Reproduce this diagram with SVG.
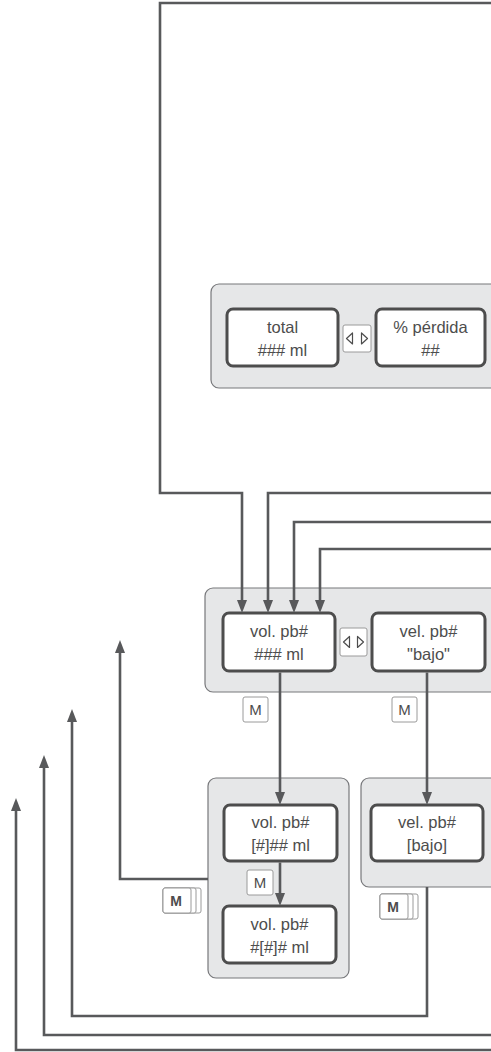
<svg xmlns="http://www.w3.org/2000/svg" width="491" height="1052" viewBox="0 0 491 1052">
<style>
.panel{fill:#e6e7e8;stroke:#77787b;stroke-width:1.2}
.box{fill:#fff;stroke:#4d4d4d;stroke-width:3}
.btn{fill:#fff;stroke:#9a9a9a;stroke-width:1}
.tri{fill:#fff;stroke:#4d4d4d;stroke-width:1.2;stroke-linejoin:round}
.t{font-family:"Liberation Sans",Arial,sans-serif;font-size:16.5px;fill:#4d4d4d;text-anchor:middle}
.m{font-family:"Liberation Sans",Arial,sans-serif;font-size:15px;fill:#4d4d4d;text-anchor:middle}
.mb{font-family:"Liberation Sans",Arial,sans-serif;font-size:14px;font-weight:bold;fill:#4d4d4d;text-anchor:middle}
.c{fill:none;stroke:#58595b;stroke-width:2.6}
</style>
<defs>
<marker id="ah" viewBox="0 0 13 10" refX="1" refY="5" markerWidth="13" markerHeight="10" markerUnits="userSpaceOnUse" orient="auto">
<path d="M0,0 L13,5 L0,10 z" fill="#58595b"/>
</marker>
</defs>

<g id="panel-top">
<rect class="panel" x="211" y="284" width="290" height="104" rx="8"/>
</g>
<g id="node-total">
<rect class="box" x="227" y="309" width="111" height="57" rx="6"/>
<text class="t" x="282.5" y="333">total</text>
<text class="t" x="282.5" y="356">### ml</text>
</g>
<g id="btn-arrows-top">
<rect class="btn" x="343" y="325" width="28" height="27" rx="2"/>
<polygon class="tri" points="346.5,338.5 352.5,333 352.5,344"/>
<polygon class="tri" points="367.5,338.5 361.5,333 361.5,344"/>
</g>
<g id="node-perdida">
<rect class="box" x="376" y="309" width="109" height="57" rx="6"/>
<text class="t" x="430.5" y="333">% pérdida</text>
<text class="t" x="430.5" y="356">##</text>
</g>

<g id="panel-mid">
<rect class="panel" x="205" y="588" width="296" height="104" rx="8"/>
</g>
<g id="node-vol">
<rect class="box" x="223" y="613" width="112" height="58" rx="6"/>
<text class="t" x="279" y="637">vol. pb#</text>
<text class="t" x="279" y="660">### ml</text>
</g>
<g id="btn-arrows-mid">
<rect class="btn" x="340" y="628" width="27" height="28" rx="2"/>
<polygon class="tri" points="343.5,642 349.5,636.5 349.5,647.5"/>
<polygon class="tri" points="363.5,642 357.5,636.5 357.5,647.5"/>
</g>
<g id="node-vel">
<rect class="box" x="372" y="613" width="113" height="58" rx="6"/>
<text class="t" x="428.5" y="637">vel. pb#</text>
<text class="t" x="428.5" y="660">"bajo"</text>
</g>
<g id="btn-m1">
<rect class="btn" x="243" y="697" width="25" height="25" rx="2"/>
<text class="m" x="255.5" y="715">M</text>
</g>
<g id="btn-m2">
<rect class="btn" x="392" y="697" width="25" height="25" rx="2"/>
<text class="m" x="404.5" y="715">M</text>
</g>

<g id="panel-left">
<rect class="panel" x="208" y="778" width="141" height="200" rx="8"/>
</g>
<g id="node-vol-edit1">
<rect class="box" x="224" y="805" width="113" height="56" rx="6"/>
<text class="t" x="280.5" y="828">vol. pb#</text>
<text class="t" x="280.5" y="851">[#]## ml</text>
</g>
<g id="btn-m3">
<rect class="btn" x="247" y="870" width="26" height="25" rx="2"/>
<text class="m" x="260" y="888">M</text>
</g>
<g id="node-vol-edit2">
<rect class="box" x="223" y="906" width="113" height="57" rx="6"/>
<text class="t" x="279.5" y="930">vol. pb#</text>
<text class="t" x="279.5" y="953">#[#]# ml</text>
</g>

<g id="panel-right">
<rect class="panel" x="361" y="778" width="140" height="109" rx="8"/>
</g>
<g id="node-vel-edit">
<rect class="box" x="371" y="805" width="112" height="56" rx="6"/>
<text class="t" x="427" y="828">vel. pb#</text>
<text class="t" x="427" y="851">[bajo]</text>
</g>

<g id="btn-mm-left">
<rect class="btn" x="163" y="888" width="38" height="25" rx="2"/>
<rect class="btn" x="163" y="888" width="33" height="25" rx="2"/>
<rect class="btn" x="163" y="888" width="28" height="25" rx="2"/>
<text class="mb" x="176" y="906">M</text>
</g>
<g id="btn-mm-right">
<rect class="btn" x="380" y="894" width="38" height="25" rx="2"/>
<rect class="btn" x="380" y="894" width="33" height="25" rx="2"/>
<rect class="btn" x="380" y="894" width="28" height="25" rx="2"/>
<text class="mb" x="393" y="912">M</text>
</g>

<g id="connectors">
<path class="c" d="M491,3 H160 V493 H242 V601" marker-end="url(#ah)"/>
<path class="c" d="M491,493 H268 V601" marker-end="url(#ah)"/>
<path class="c" d="M491,522 H294 V601" marker-end="url(#ah)"/>
<path class="c" d="M491,549 H320 V601" marker-end="url(#ah)"/>
<path class="c" d="M280,672.5 V793" marker-end="url(#ah)"/>
<path class="c" d="M427,672.5 V793" marker-end="url(#ah)"/>
<path class="c" d="M280,862.5 V894" marker-end="url(#ah)"/>
<path class="c" d="M208,879 H120 V652" marker-end="url(#ah)"/>
<path class="c" d="M427,887 V1016 H72 V721" marker-end="url(#ah)"/>
<path class="c" d="M491,1035 H44 V767" marker-end="url(#ah)"/>
<path class="c" d="M491,1050 H16 V810" marker-end="url(#ah)"/>
</g>
</svg>
